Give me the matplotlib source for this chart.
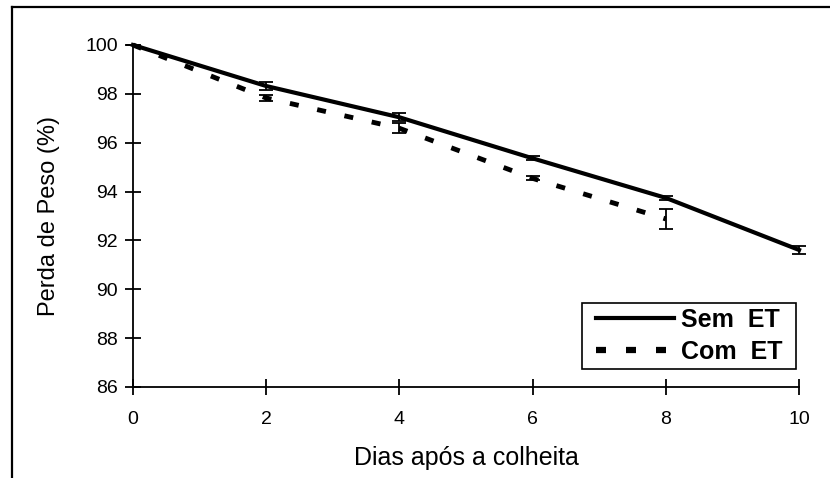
import matplotlib
matplotlib.use("Agg")
import matplotlib.pyplot as plt
from matplotlib.lines import Line2D
from matplotlib.patches import Rectangle

plt.rcParams['font.family'] = ['Liberation Sans', 'DejaVu Sans']

dias = [0, 2, 4, 6, 8, 10]
sem_et = [100, 98.32, 97.04, 95.36, 93.74, 91.61]
sem_et_err = [0, 0.17, 0.17, 0.08, 0.07, 0.15]

dias_com = [0, 2, 4, 6, 8]
com_et = [100, 97.83, 96.59, 94.54, 92.88]
com_et_err = [0, 0.12, 0.2, 0.08, 0.42]

fig = plt.figure(figsize=(8.3, 4.78), dpi=100)
ax = fig.add_axes([0.1602, 0.1904, 0.8025, 0.7155])

ax.errorbar(dias, sem_et, yerr=sem_et_err, color='black', lw=3,
            ecolor='black', elinewidth=1.3, capsize=5, capthick=1.3,
            clip_on=False, zorder=3)
ax.errorbar(dias_com, com_et, yerr=com_et_err, color='black', lw=3.5,
            dashes=(1.85, 3.9), ecolor='black', elinewidth=1.3, capsize=5,
            capthick=1.3, clip_on=False, zorder=3)

ax.set_xlim(0, 10)
ax.set_ylim(86, 100)
ax.set_xticks(range(0, 11, 2))
ax.set_yticks(range(86, 101, 2))
ax.tick_params(direction='inout', length=12, width=1.3, labelsize=14)
ax.tick_params(axis='x', pad=11)
ax.tick_params(axis='y', pad=5)
for side in ['top', 'right']:
    ax.spines[side].set_visible(False)
for side in ['left', 'bottom']:
    ax.spines[side].set_linewidth(1.3)

ax.set_xlabel('Dias após a colheita', fontsize=18, labelpad=13)
ax.set_ylabel('Perda de Peso (%)', fontsize=17, labelpad=18)

handles = [Line2D([], [], color='black', lw=3),
           Line2D([], [], color='black', lw=4.5, dashes=(1.6, 3.2))]
leg = ax.legend(handles, ['Sem  ET', 'Com  ET'], loc='lower right',
                bbox_to_anchor=(0.982, 0.0526), frameon=False,
                handlelength=3.1, handletextpad=0.28, borderpad=0.2,
                labelspacing=0.33, borderaxespad=0,
                prop={'weight': 'bold', 'size': 18})

# legend box, wider on the sides than the default frame
fig.canvas.draw()
bb = leg.get_window_extent()
fig.add_artist(Rectangle((bb.x0 - 9, bb.y0), bb.width + 18, bb.height,
                         transform=None, fill=False, edgecolor='black',
                         lw=1.2, zorder=5))

# outer chart border (top and left)
fig.add_artist(Line2D([12 / 830, 1.0], [1 - 7 / 478, 1 - 7 / 478],
                      color='black', lw=1.6, transform=fig.transFigure))
fig.add_artist(Line2D([12 / 830, 12 / 830], [0.0, 1 - 7 / 478],
                      color='black', lw=1.6, transform=fig.transFigure))

fig.savefig('out.png', dpi=100)
